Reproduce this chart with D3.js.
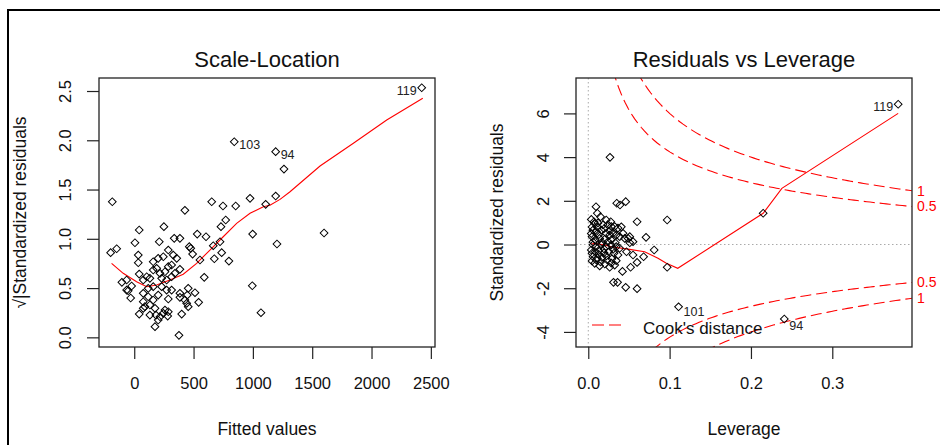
<!DOCTYPE html>
<html><head><meta charset="utf-8">
<script src="https://cdn.jsdelivr.net/npm/d3@7"></script>
<style>body{margin:0;background:#fff} svg{display:block}</style>
</head><body><svg id="c" width="940" height="445"></svg>
<script>
// ---------- Panel 1: Scale-Location ----------
const fittedValues = [-185,843,1192,2423,1262,427,653,748,855,976,1108,1192,250,42,771,731,531,605,998,1203,337,385,211,6,464,476,723,666,-199,-148,34,737,675,798,554,34,590,995,1068,377,175,42,-30,-104,-51,543,512,1600,287,329,358,492,160,202,245,287,315,385,160,189,217,259,42,105,132,231,273,315,343,76,-64,-22,118,160,231,273,315,385,455,447,-64,76,118,202,160,287,385,427,76,90,132,175,259,442,455,132,183,217,245,287,400,282,202,76];
const sqrtStdResid = [1.376,1.985,1.884,2.533,1.708,1.289,1.376,1.333,1.333,1.411,1.350,1.434,1.123,1.089,1.191,1.123,1.048,1.021,1.048,0.947,1.005,1.005,0.970,0.960,0.920,0.903,0.970,0.930,0.859,0.899,0.835,0.859,0.798,0.774,0.785,0.757,0.609,0.524,0.250,0.020,0.108,0.236,0.399,0.558,0.473,0.355,0.453,1.059,0.886,0.835,0.802,0.845,0.767,0.802,0.818,0.717,0.734,0.690,0.683,0.700,0.650,0.666,0.642,0.615,0.599,0.599,0.582,0.615,0.650,0.582,0.582,0.521,0.497,0.514,0.514,0.480,0.480,0.447,0.497,0.429,0.480,0.447,0.412,0.429,0.379,0.389,0.406,0.379,0.361,0.311,0.328,0.294,0.277,0.345,0.311,0.226,0.226,0.209,0.244,0.260,0.236,0.216,0.176,0.294];
const slLabels = [{i:3,t:"119",side:"left"},{i:1,t:"103",side:"right"},{i:2,t:"94",side:"right"}];
const slSmoothX = [-191,-93,20,105,189,301,413,526,638,750,863,976,1088,1144,1229,1313,1566,1847,2128,2432];
const slSmoothY = [0.751,0.650,0.564,0.514,0.531,0.582,0.640,0.751,0.886,1.021,1.157,1.259,1.326,1.34,1.40,1.478,1.739,1.969,2.206,2.426];
const slXTicks = [0,500,1000,1500,2000,2500];
const slYTicks = [0.0,0.5,1.0,1.5,2.0,2.5];

// ---------- Panel 2: Residuals vs Leverage ----------
const leverage = [0.381,0.215,0.241,0.111,0.0267,0.097,0.097,0.060,0.071,0.081,0.035,0.039,0.046,0.0095,0.068,0.060,0.052,0.042,0.031,0.036,0.046,0.060,0.055,0.047,0.051,0.055,0.049,0.051,
 0.015,0.0079,0.0119,0.018,0.0242,0.0283,0.0325,0.0365,0.0058,0.0098,0.016,0.0221,0.0263,0.0304,0.0344,0.0386,0.0046,0.0086,0.014,0.0202,0.0242,0.0283,0.0332,
 0.0058,0.0098,0.016,0.0221,0.0283,0.0344,0.0386,0.0037,0.0086,0.0128,0.0193,0.0251,0.0316,0.0365,0.0058,0.0111,0.0168,0.0234,0.0291,0.0344,0.0079,0.014,0.0202,0.0263,0.0325,
 0.0037,0.007,0.0111,0.0221,0.0276,0.0406,0.0427,0.0448,0.0046,0.0037,0.0058,0.0046,0.0098,0.0128,0.0193,0.0263,0.0128,0.0193,0.0304,0.0221,0.0046,0.0168,0.0111,0.0150,0.0283];
const stdResid = [6.42,1.43,-3.41,-2.85,3.99,1.12,-1.04,1.04,0.33,-0.25,1.89,1.81,1.96,1.73,-0.56,-0.82,-1.04,-1.23,-1.73,-1.73,-1.96,-2.02,-0.48,-0.33,0.08,0.13,0.28,0.36,
 1.27,0.97,0.99,0.90,0.90,0.82,0.82,0.75,0.66,0.59,0.66,0.51,0.43,0.51,0.43,0.36,0.36,0.21,0.28,0.24,0.13,0.21,0.08,
 -0.02,-0.10,-0.02,-0.10,-0.02,-0.10,-0.17,-0.25,-0.33,-0.28,-0.38,-0.33,-0.40,-0.48,-0.56,-0.63,-0.59,-0.71,-0.65,-0.74,-0.86,-0.98,-0.89,-1.04,-0.94,
 1.15,1.04,1.43,1.12,1.04,0.81,0.51,0.28,0.80,0.50,0.12,-0.40,-0.70,0.45,0.72,0.62,-0.45,-0.20,-0.22,-0.52,-0.75,0.10,0.80,-0.80,-0.85];
const rlLabels = [{i:0,t:"119",side:"left"},{i:3,t:"101",side:"right"},{i:2,t:"94",side:"right"}];
const rlSmoothX = [0.004,0.0078,0.020,0.0283,0.0488,0.0693,0.0857,0.096,0.110,0.215,0.238,0.381];
const rlSmoothY = [0.02,0.05,-0.02,-0.10,-0.21,-0.33,-0.63,-0.86,-1.09,1.43,2.57,6.0];
const rlXTicks = [0.0,0.1,0.2,0.3];
const rlYTicks = [-4,-2,0,2,4,6];
const cookLevels = [0.5,1];
const nParams = 4;

// ---------- drawing ----------
const svg = d3.select("#c");
const FONT = "'Liberation Sans', Arial, Helvetica, sans-serif";
const TXT = "#111";
const plotTop = 78, plotBottom = 347;

svg.append("rect").attr("x",8).attr("y",10).attr("width",1200).attr("height",1200)
  .attr("fill","none").attr("stroke","#000").attr("stroke-width",2);

const sym = d3.symbol().type(d3.symbolSquare).size(30);

function panel(o){
  const x = d3.scaleLinear().domain(o.xd).range([o.x0,o.x1]);
  const y = d3.scaleLinear().domain(o.yd).range([plotBottom,plotTop]);
  const g = svg.append("g");
  const clipId = "clip"+o.id;
  svg.append("clipPath").attr("id",clipId).append("rect")
    .attr("x",o.x0).attr("y",plotTop).attr("width",o.x1-o.x0).attr("height",plotBottom-plotTop);
  const inner = g.append("g").attr("clip-path",`url(#${clipId})`);
  if (o.before) o.before(inner,x,y);
  g.selectAll("path.pt").data(o.px.map((d,i)=>[d,o.py[i]])).join("path")
    .attr("class","pt").attr("d",sym)
    .attr("transform",d=>`translate(${x(d[0])},${y(d[1])}) rotate(45)`)
    .attr("fill","none").attr("stroke","#000").attr("stroke-width",1);
  const line = d3.line().x(d=>x(d[0])).y(d=>y(d[1]));
  inner.append("path").datum(o.sx.map((d,i)=>[d,o.sy[i]])).attr("d",line)
    .attr("fill","none").attr("stroke","red").attr("stroke-width",1.1);
  o.labels.forEach(l=>{
    const cx = x(o.px[l.i]), cy = y(o.py[l.i]);
    g.append("text").attr("x", l.side==="left"? cx-5 : cx+5).attr("y", cy + (l.dy||2.5))
      .attr("dy","0.35em").attr("text-anchor", l.side==="left"?"end":"start")
      .attr("font-family",FONT).attr("font-size",12.5).attr("fill","#222").text(l.t);
  });
  g.append("rect").attr("x",o.x0).attr("y",plotTop).attr("width",o.x1-o.x0).attr("height",plotBottom-plotTop)
    .attr("fill","none").attr("stroke","#222").attr("stroke-width",1.3);
  const xa = g.append("g").attr("transform",`translate(0,${plotBottom})`)
    .call(d3.axisBottom(x).tickValues(o.xt).tickSize(12).tickSizeOuter(0).tickFormat(o.xf));
  xa.select(".domain").remove();
  xa.selectAll("line").attr("stroke","#222").attr("stroke-width",1.2);
  xa.selectAll("text").attr("font-family",FONT).attr("font-size",16.5).attr("fill",TXT)
    .attr("y",36).attr("dy","0.35em");
  const ya = g.append("g").attr("transform",`translate(${o.x0},0)`)
    .call(d3.axisLeft(y).tickValues(o.yt).tickSize(12).tickSizeOuter(0).tickFormat(o.yf));
  ya.select(".domain").remove();
  ya.selectAll("line").attr("stroke","#222").attr("stroke-width",1.2);
  ya.selectAll("text").attr("font-family",FONT).attr("font-size",16.5).attr("fill",TXT)
    .attr("x",null).attr("y",null).attr("text-anchor","middle")
    .attr("transform",`translate(${o.ytx},0) rotate(-90)`).attr("dy","0.35em");
  g.append("text").attr("x",(o.x0+o.x1)/2).attr("y",67).attr("text-anchor","middle")
    .attr("font-family",FONT).attr("font-size",22).attr("fill",TXT).text(o.title);
  g.append("text").attr("x",(o.x0+o.x1)/2).attr("y",429).attr("dy","0.35em").attr("text-anchor","middle")
    .attr("font-family",FONT).attr("font-size",17.5).attr("fill",TXT).text(o.xlab);
  g.append("text").attr("transform",`translate(${o.ylx},${(plotTop+plotBottom)/2}) rotate(-90)`)
    .attr("dy","0.35em").attr("text-anchor","middle")
    .attr("font-family",FONT).attr("font-size",17.5).attr("fill",TXT).text(o.ylab);
  return {x,y,g};
}

const hyphen = f => d => f(d).replace("\u2212","-");

panel({
  id:1, x0:99, x1:435, xd:[-297,2535], yd:[-0.098,2.632],
  px:fittedValues, py:sqrtStdResid, sx:slSmoothX, sy:slSmoothY, labels:slLabels,
  xt:slXTicks, yt:slYTicks, xf:hyphen(d3.format("d")), yf:hyphen(d3.format(".1f")),
  ytx:-34, ylx:20, title:"Scale-Location", xlab:"Fitted values",
  ylab:"\u221A|Standardized residuals"
});

const rl = panel({
  id:2, x0:576, x1:912, xd:[-0.0151,0.398], yd:[-4.69,7.62],
  px:leverage, py:stdResid, sx:rlSmoothX, sy:rlSmoothY,
  labels:rlLabels.map(l=> l.t==="119"? l : Object.assign({},l,{dy:l.t==="101"?5:7})),
  xt:rlXTicks, yt:rlYTicks, xf:hyphen(d3.format(".1f")), yf:hyphen(d3.format("d")),
  ytx:-33, ylx:497, title:"Residuals vs Leverage", xlab:"Leverage",
  ylab:"Standardized residuals",
  before:(inner,x,y)=>{
    inner.append("line").attr("x1",x(0)).attr("x2",x(0)).attr("y1",plotTop).attr("y2",plotBottom)
      .attr("stroke","#aaa").attr("stroke-dasharray","1.5,2.5");
    inner.append("line").attr("x1",x.range()[0]).attr("x2",x.range()[1]).attr("y1",y(0)).attr("y2",y(0))
      .attr("stroke","#aaa").attr("stroke-dasharray","1.5,2.5");
    const xmax = x.domain()[1];
    const hh = d3.range(101).map(k=> 0.0015 + (xmax-0.0015)*k/100);
    const ln = d3.line().x(d=>x(d[0])).y(d=>y(d[1]));
    cookLevels.forEach(c=>{
      [1,-1].forEach(s=>{
        inner.append("path").datum(hh.map(h=>[h, s*Math.sqrt(c*nParams*(1-h)/h)]))
          .attr("d",ln).attr("fill","none").attr("stroke","red").attr("stroke-width",1.1)
          .attr("stroke-dasharray","11,5");
      });
    });
  }
});

{
  const xmax = Math.min(0.99, rl.x.domain()[1]);
  const ymult = Math.sqrt(nParams*(1-xmax)/xmax);
  cookLevels.forEach(c=>{
    [1,-1].forEach(s=>{
      svg.append("text").attr("x",917).attr("y",rl.y(s*Math.sqrt(c)*ymult)).attr("dy","0.35em")
        .attr("font-family",FONT).attr("font-size",14).attr("fill","red").text(String(c));
    });
  });
  svg.append("line").attr("x1",592).attr("x2",622).attr("y1",325).attr("y2",325)
    .attr("stroke","red").attr("stroke-width",1.1).attr("stroke-dasharray","12,5");
  svg.append("text").attr("x",643).attr("y",328).attr("dy","0.35em")
    .attr("font-family",FONT).attr("font-size",17).attr("fill",TXT).text("Cook's distance");
}
</script></body></html>
